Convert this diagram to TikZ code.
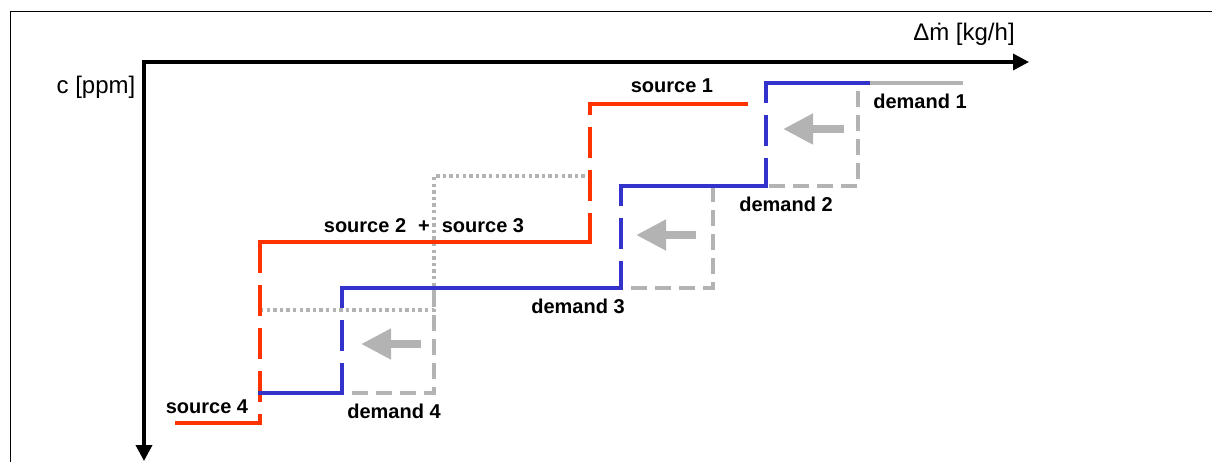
\documentclass[tikz,border=0pt]{standalone}
\usepackage{fontspec}
\setmainfont{Liberation Sans}
\usetikzlibrary{arrows.meta}
\definecolor{srcred}{HTML}{FF3300}
\definecolor{dmdblue}{HTML}{3333CC}
\definecolor{dmdgray}{HTML}{B3B3B3}

\begin{document}
\begin{tikzpicture}
  [x=0.5pt,y=-0.5pt,
   axis/.style={line width=1.75pt,
                {Triangle[length=8pt,width=8pt]}-{Triangle[length=8pt,width=8pt]}},
   source/.style={draw=srcred,line width=1.75pt,line cap=rect},
   demand/.style={draw=dmdblue,line width=1.75pt,line cap=rect},
   original/.style={draw=dmdgray,line width=1.75pt},
   jump/.style={line cap=butt,dash pattern=on 15.5pt off 6pt},
   moveleft/.style={draw=dmdgray,line width=4pt,
                    -{Triangle[length=15pt,width=14.5pt]}},
   lbl/.style={font=\fontsize{10}{12}\selectfont\bfseries,inner sep=0pt},
   unit/.style={font=\fontsize{12}{14}\selectfont,inner sep=0pt}]
  \useasboundingbox (0,0) rectangle (1212,462);

  % frame and axes
  \draw[line width=0.5pt] (10,462) -- (10,11) -- (1212,11);
  \coordinate (O)    at (144,62);
  \coordinate (xend) at (1029,62);
  \coordinate (yend) at (144,461);
  \draw[axis] (yend) -- (O) -- (xend);
  \node[unit] (mflow) at (964,34) {Δṁ [kg/h]};
  \node[unit] (conc)  at (96,87)  {c [ppm]};

  % original demand curve
  \draw[original] (858,83) -- (963,83);
  \draw[original,dash pattern=on 8pt off 4pt,dash phase=8pt]
    (858,83) -- (858,186) -- (713,186) -- (713,288)
             -- (434,288) -- (434,393) -- (343,393);
  \draw[original,dash pattern=on 1.7pt off 1.6pt]
    (260,310) -- (434,310) -- (434,176) -- (590,176);

  % source curve
  \coordinate (s1end) at (746,104);
  \coordinate (s1a)   at (590,104);
  \coordinate (s1b)   at (590,242);
  \coordinate (s23a)  at (260,242);
  \coordinate (s23b)  at (260,423);
  \coordinate (s4end) at (177,423);
  \draw[source]      (s1end) -- (s1a);
  \draw[source,jump,dash phase=10pt] (s1a) -- (s1b);
  \draw[source]      (s1b) -- (s23a);
  \draw[source,jump] (s23a) -- (s23b);
  \draw[source]      (s23b) -- (s4end);

  % shifted demand curve
  \coordinate (d1end) at (868,83);
  \coordinate (d1a)   at (766,83);
  \coordinate (d1b)   at (766,186);
  \coordinate (d2a)   at (621,186);
  \coordinate (d2b)   at (621,288);
  \coordinate (d3a)   at (342,288);
  \coordinate (d3b)   at (342,393);
  \coordinate (d4end) at (260,393);
  \draw[demand]      (d1end) -- (d1a);
  \draw[demand,jump,dash phase=5.5pt] (d1a) -- (d1b);
  \draw[demand]      (d1b) -- (d2a);
  \draw[demand,jump,dash phase=5.5pt] (d2a) -- (d2b);
  \draw[demand]      (d2b) -- (d3a);
  \draw[demand,jump,dash phase=5.5pt] (d3a) -- (d3b);
  \draw[demand]      (d3b) -- (d4end);

  % shift arrows
  \coordinate (a1s) at (844,129); \coordinate (a1e) at (783,129);
  \coordinate (a2s) at (696,235); \coordinate (a2e) at (636,235);
  \coordinate (a3s) at (421,344); \coordinate (a3e) at (361,344);
  \draw[moveleft] (a1s) -- (a1e);
  \draw[moveleft] (a2s) -- (a2e);
  \draw[moveleft] (a3s) -- (a3e);

  % labels
  \node[lbl] (src1)  at (672,86)  {source 1};
  \node[lbl] (dmd1)  at (920,101) {demand 1};
  \node[lbl] (dmd2)  at (786,204) {demand 2};
  \node[lbl] (src23) at (424,226) {source 2\hspace{6pt}+\hspace{6pt}source 3};
  \node[lbl] (dmd3)  at (578,306) {demand 3};
  \node[lbl] (src4)  at (207,407) {source 4};
  \node[lbl] (dmd4)  at (394,411) {demand 4};
\end{tikzpicture}
\end{document}
